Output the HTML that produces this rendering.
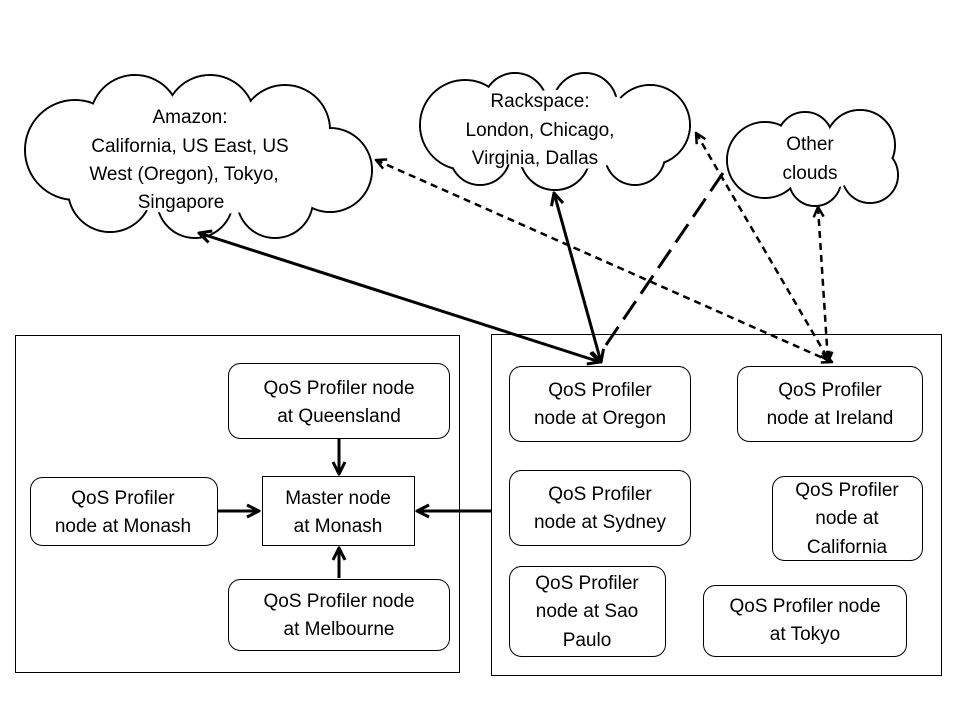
<!DOCTYPE html>
<html><head><meta charset="utf-8"><style>
html,body{margin:0;padding:0;background:#fff;}
svg text{font-family:"Liberation Sans Narrow","Liberation Sans",sans-serif;font-size:19px;fill:#000;text-anchor:middle;}
</style></head><body>
<svg width="960" height="720" viewBox="0 0 960 720" xmlns="http://www.w3.org/2000/svg">
<defs>
<marker id="a" viewBox="0 0 10 10" refX="9" refY="5" markerWidth="5" markerHeight="5" orient="auto-start-reverse" markerUnits="strokeWidth">
<path d="M1,1 L9,5 L1,9" fill="none" stroke="#000" stroke-width="2"/></marker>
</defs>
<rect width="960" height="720" fill="#fff"/>
<!-- clouds -->
<g stroke="#000" stroke-width="2" fill="#fff">
<circle cx="75" cy="150" r="50"/><circle cx="135" cy="120" r="45"/><circle cx="210" cy="120" r="45"/><circle cx="285" cy="130" r="45"/><circle cx="330" cy="170" r="42"/><circle cx="275" cy="200" r="38"/><circle cx="195" cy="200" r="38"/><circle cx="110" cy="190" r="42"/>
<circle cx="465" cy="125" r="45"/><circle cx="515" cy="105" r="32"/><circle cx="585" cy="105" r="32"/><circle cx="650" cy="125" r="40"/><circle cx="635" cy="155" r="30"/><circle cx="555" cy="155" r="35"/><circle cx="480" cy="155" r="30"/>
<circle cx="765" cy="160" r="38"/><circle cx="805" cy="140" r="28"/><circle cx="860" cy="145" r="35"/><circle cx="870" cy="175" r="28"/><circle cx="815" cy="180" r="26"/>
</g>
<g fill="#fff">
<circle cx="75" cy="150" r="49"/><circle cx="135" cy="120" r="44"/><circle cx="210" cy="120" r="44"/><circle cx="285" cy="130" r="44"/><circle cx="330" cy="170" r="41"/><circle cx="275" cy="200" r="37"/><circle cx="195" cy="200" r="37"/><circle cx="110" cy="190" r="41"/><ellipse cx="200" cy="160" rx="130" ry="55"/>
<circle cx="465" cy="125" r="44"/><circle cx="515" cy="105" r="31"/><circle cx="585" cy="105" r="31"/><circle cx="650" cy="125" r="39"/><circle cx="635" cy="155" r="29"/><circle cx="555" cy="155" r="34"/><circle cx="480" cy="155" r="29"/><ellipse cx="560" cy="130" rx="100" ry="40"/>
<circle cx="765" cy="160" r="37"/><circle cx="805" cy="140" r="27"/><circle cx="860" cy="145" r="34"/><circle cx="870" cy="175" r="27"/><circle cx="815" cy="180" r="25"/><ellipse cx="815" cy="160" rx="55" ry="30"/>
</g>
<text x="190" y="123">Amazon:</text>
<text x="190" y="152">California, US East, US</text>
<text x="184" y="180">West (Oregon), Tokyo,</text>
<text x="181" y="208">Singapore</text>
<text x="540" y="107">Rackspace:</text>
<text x="540" y="136">London, Chicago,</text>
<text x="535" y="164">Virginia, Dallas</text>
<text x="810" y="150">Other</text>
<text x="810" y="179">clouds</text>
<!-- containers -->
<rect x="15.5" y="335.5" width="444" height="337" fill="none" stroke="#000" stroke-width="1"/>
<rect x="491.5" y="334.5" width="450" height="341" fill="none" stroke="#000" stroke-width="1"/>
<!-- nodes -->
<g fill="#fff" stroke="#000" stroke-width="1">
<rect x="228.5" y="363.5" width="221" height="75" rx="12"/>
<rect x="262.5" y="476.5" width="152" height="69"/>
<rect x="30.5" y="477.5" width="187" height="68" rx="12"/>
<rect x="228.5" y="579.5" width="221" height="71" rx="12"/>
<rect x="509.5" y="366.5" width="181" height="75" rx="12"/>
<rect x="737.5" y="366.5" width="185" height="75" rx="12"/>
<rect x="509.5" y="470.5" width="181" height="75" rx="12"/>
<rect x="772.5" y="476.5" width="150" height="84" rx="12"/>
<rect x="509.5" y="566.5" width="156" height="90" rx="12"/>
<rect x="703.5" y="585.5" width="203" height="71" rx="12"/>
</g>
<text x="339" y="394">QoS Profiler node</text><text x="339" y="422">at Queensland</text>
<text x="338" y="504">Master node</text><text x="338" y="532">at Monash</text>
<text x="123" y="504">QoS Profiler</text><text x="123" y="532">node at Monash</text>
<text x="339" y="607">QoS Profiler node</text><text x="339" y="635">at Melbourne</text>
<text x="600" y="396">QoS Profiler</text><text x="600" y="424">node at Oregon</text>
<text x="830" y="396">QoS Profiler</text><text x="830" y="424">node at Ireland</text>
<text x="600" y="500">QoS Profiler</text><text x="600" y="528">node at Sydney</text>
<text x="847" y="496">QoS Profiler</text><text x="847" y="524">node at</text><text x="847" y="553">California</text>
<text x="587" y="589">QoS Profiler</text><text x="587" y="617">node at Sao</text><text x="587" y="646">Paulo</text>
<text x="805" y="612">QoS Profiler node</text><text x="805" y="640">at Tokyo</text>
<!-- connectors -->
<g stroke="#000" fill="none" stroke-width="3">
<line x1="339" y1="439" x2="339" y2="474" marker-end="url(#a)"/>
<line x1="339" y1="578" x2="339" y2="548" marker-end="url(#a)"/>
<line x1="218" y1="511" x2="259" y2="511" marker-end="url(#a)"/>
<line x1="491" y1="511" x2="417" y2="511" marker-end="url(#a)"/>
<line x1="199" y1="233" x2="600" y2="362" marker-start="url(#a)" marker-end="url(#a)"/>
<line x1="554" y1="193" x2="601" y2="362" marker-start="url(#a)" marker-end="url(#a)"/>
<line x1="606" y1="345" x2="727" y2="167" stroke-dasharray="22,9"/>
<g stroke-width="2.5" stroke-dasharray="7,5">
<line x1="376" y1="160" x2="832" y2="362" marker-start="url(#a)" marker-end="url(#a)"/>
<line x1="696" y1="133" x2="830" y2="362" marker-start="url(#a)" marker-end="url(#a)"/>
<line x1="818" y1="207" x2="828" y2="362" marker-start="url(#a)" marker-end="url(#a)"/>
</g>
</g>
</svg>
</body></html>
